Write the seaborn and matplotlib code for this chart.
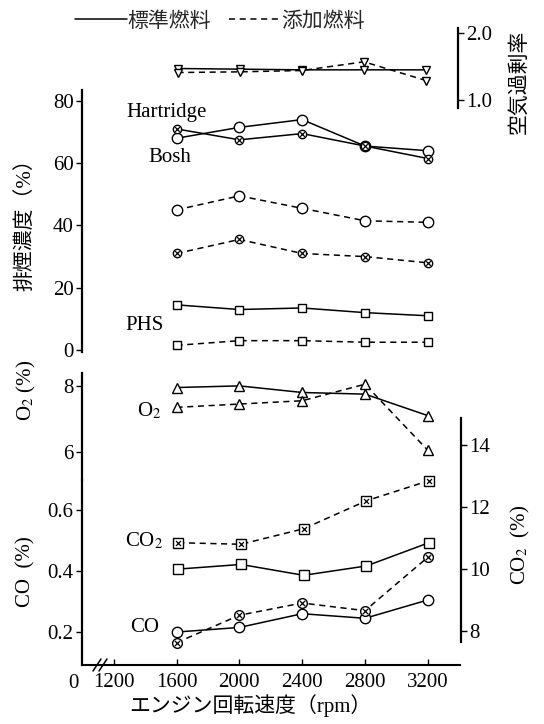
"""Exhaust smoke, O2, CO and CO2 against engine speed (standard vs additive fuel)."""

import matplotlib

matplotlib.use("Agg")

import matplotlib.pyplot as plt
from matplotlib.lines import Line2D
import seaborn as sns


rpm = [1600, 2000, 2400, 2800, 3200]

# excess air ratio
air_std = [1.47, 1.46, 1.45, 1.45, 1.45]
air_add = [1.41, 1.42, 1.44, 1.57, 1.29]

# smoke density (%)
hart_std = [68, 71.5, 74, 65.5, 64]
bosh_std = [71, 67.5, 69.5, 65.5, 61.5]
hart_add = [45, 49.5, 45.5, 41.5, 41]
bosh_add = [31, 35.5, 31, 30, 28]
phs_std = [14.5, 13, 13.5, 12, 11]
phs_add = [1.5, 3, 3, 2.5, 2.5]

# gases (%)
o2_std = [7.95, 8.0, 7.8, 7.75, 7.1]
o2_add = [7.35, 7.45, 7.55, 8.05, 6.05]
co_std = [0.20, 0.215, 0.26, 0.245, 0.305]
co_add = [0.165, 0.255, 0.295, 0.27, 0.445]
co2_std = [10.0, 10.15, 9.8, 10.1, 10.85]
co2_add = [10.85, 10.8, 11.3, 12.2, 12.85]

x_ticks = [1200, 1600, 2000, 2400, 2800, 3200]
legend_labels = ["標準燃料", "添加燃料"]

W, H = 544, 724
XLIM = (998, 3405)
DASH = (0, (4, 3))
FS = 15

sns.set_theme(style="white")
plt.rcParams["font.family"] = ["Liberation Serif", "Noto Sans CJK JP"]
plt.rcParams["mathtext.fontset"] = "stix"

fig = plt.figure(figsize=(W / 100, H / 100), dpi=100)


def add_box(left, top, right, bottom):
    ax = fig.add_axes([left / W, 1 - bottom / H, (right - left) / W, (bottom - top) / H])
    ax.patch.set_alpha(0)
    return ax


def style(ax, side, ylim, ticks, fmt="{:g}"):
    for s in ax.spines.values():
        s.set_visible(False)
    ax.spines[side].set_visible(True)
    ax.spines[side].set_color("black")
    ax.spines[side].set_linewidth(1.6)
    ax.set_xlim(*XLIM)
    ax.set_ylim(*ylim)
    ax.set_xticks([])
    ax.set_yticks(ticks)
    ax.set_yticklabels([fmt.format(t) for t in ticks])
    ax.yaxis.set_ticks_position(side)
    ax.tick_params(axis="y", direction="out", length=4, width=1, labelsize=FS,
                   pad=2, colors="black")
    ax.set_xlabel("")
    ax.set_ylabel("")


def series(ax, y, dashed, marker, ms, cross=False):
    sns.lineplot(x=rpm, y=y, ax=ax, color="black", lw=1.1,
                 linestyle=DASH if dashed else "-", marker=marker, markersize=ms,
                 markerfacecolor="white", markeredgecolor="black", markeredgewidth=1)
    if cross:
        sns.scatterplot(x=rpm, y=y, ax=ax, marker="x", s=(ms * 0.55) ** 2,
                        color="black", linewidth=0.9, zorder=5)


# excess air ratio (top, right axis)
ax_air = add_box(84, 28, 458, 108)
series(ax_air, air_std, False, "v", 6)
series(ax_air, air_add, True, "v", 6)
style(ax_air, "right", (0.88, 2.075), [1.0, 2.0], "{:.1f}")

# smoke density
ax_smoke = add_box(82, 90, 460, 352)
series(ax_smoke, hart_std, False, "o", 7.5)
series(ax_smoke, bosh_std, False, "o", 6, cross=True)
series(ax_smoke, hart_add, True, "o", 7.5)
series(ax_smoke, bosh_add, True, "o", 6, cross=True)
series(ax_smoke, phs_std, False, "s", 6)
series(ax_smoke, phs_add, True, "s", 5.5)
style(ax_smoke, "left", (-0.64, 83.5), [0, 20, 40, 60, 80])

# O2
ax_o2 = add_box(82, 373, 460, 480)
series(ax_o2, o2_std, False, "^", 6.5)
series(ax_o2, o2_add, True, "^", 6.5)
style(ax_o2, "left", (5.15, 8.39), [6, 8])

# CO2 (right axis)
ax_co2 = add_box(84, 418, 461, 642)
series(ax_co2, co2_std, False, "s", 7)
series(ax_co2, co2_add, True, "s", 6.5, cross=True)
style(ax_co2, "right", (7.65, 14.87), [8, 10, 12, 14])

# CO with the rpm axis
ax_co = add_box(82, 480, 460, 665)
series(ax_co, co_std, False, "o", 7.5)
series(ax_co, co_add, True, "o", 7, cross=True)
style(ax_co, "left", (0.092, 0.698), [0.2, 0.4, 0.6], "{:.1f}")
ax_co.spines["bottom"].set_visible(True)
ax_co.spines["bottom"].set_color("black")
ax_co.spines["bottom"].set_linewidth(1.5)
ax_co.set_xticks(x_ticks)
ax_co.set_xticklabels([str(t) for t in x_ticks])
ax_co.xaxis.set_ticks_position("bottom")
ax_co.tick_params(axis="x", direction="in", length=4, width=1, labelsize=FS,
                  pad=6, colors="black")

# axis break mark
for dx in (0, 6):
    fig.add_artist(Line2D([(93 + dx) / W, (101 + dx) / W], [1 - 671 / H, 1 - 659 / H],
                          color="black", lw=1.1))


def ftext(x, y, s, **kw):
    kw.setdefault("fontsize", FS)
    fig.text(x / W, 1 - y / H, s, color="black", **kw)


ftext(73, 684, "0", ha="center", va="center")
ftext(250, 706, "エンジン回転速度（rpm）", ha="center", va="center")

ftext(26, 220, "排煙濃度（%）", rotation=90, ha="center", va="center")
ftext(26, 390, "O$_2$ (%)", rotation=90, ha="center", va="center")
ftext(26, 572, "CO  (%)", rotation=90, ha="center", va="center")
ftext(520, 82, "空気過剰率", rotation=90, ha="center", va="center")
ftext(520, 545, "CO$_2$  (%)", rotation=90, ha="center", va="center")

ftext(126, 112, "Hartridge", ha="left", va="center")
ftext(148, 157, "Bosh", ha="left", va="center")
ftext(125, 326, "PHS", ha="left", va="center")
ftext(137, 411, "O$_2$", ha="left", va="center")
ftext(125, 541, "CO$_2$", ha="left", va="center")
ftext(130, 627, "CO", ha="left", va="center")

handles = [Line2D([], [], color="black", lw=1.1),
           Line2D([], [], color="black", lw=1.1, linestyle=DASH)]
fig.legend(handles, legend_labels, loc="center left", bbox_to_anchor=(75 / W, 1 - 22 / H),
           ncol=2, frameon=False, handlelength=2.5, handletextpad=0.0,
           columnspacing=0.9, fontsize=FS, borderpad=0, borderaxespad=0)

fig.savefig("out.png", dpi=100, facecolor="white")
